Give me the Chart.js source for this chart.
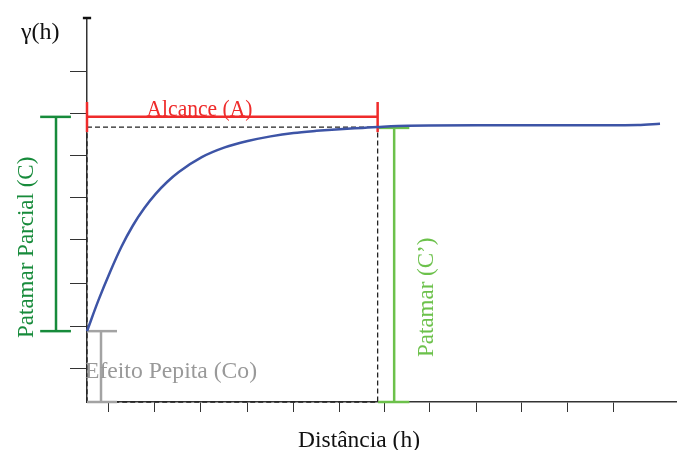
<!DOCTYPE html>
<html>
<head>
<meta charset="utf-8">
<script src="https://cdn.jsdelivr.net/npm/chart.js@4.4.0/dist/chart.umd.min.js"></script>
<style>
    html, body { margin: 0; padding: 0; background: #fff; }
    #wrap { width: 677px; height: 450px; }
</style>
</head>
<body>
<div id="wrap"><canvas id="chart"></canvas></div>
<script>
// modelo do semivariograma
const distance = [0, 0.25, 0.50, 0.75, 1.00, 1.25, 1.50, 1.75, 2.00, 2.50, 3.00, 3.50, 4.00, 4.50, 5.00, 5.50, 6.00, 6.33, 7.00, 8.50, 10.50, 12.00, 12.48];
const gamma = [1.67, 2.40, 3.06, 3.66, 4.16, 4.57, 4.91, 5.19, 5.42, 5.77, 6.00, 6.15, 6.26, 6.34, 6.39, 6.43, 6.46, 6.48, 6.51, 6.52, 6.52, 6.53, 6.56];

const xTicks = [0.46, 1.48, 2.48, 3.49, 4.49, 5.49, 6.47, 7.47, 8.48, 9.46, 10.46, 11.46];
const yTicks = [0.80, 1.79, 2.80, 3.82, 4.81, 5.80, 6.79, 7.80];

const nugget = 1.67;     // Co
const sill = 6.48;       // C + Co
const range = 6.33;      // A

const labels = {
    y: 'γ(h)',
    x: 'Distância (h)',
    range: 'Alcance (A)',
    partialSill: 'Patamar Parcial (C)',
    nugget: 'Efeito Pepita (Co)',
    sill: 'Patamar (C’)'
};

const colors = {
    curve: '#3d54a6',
    red: '#ef2b2b',
    green: '#178b3b',
    lightGreen: '#6cc14b',
    grey: '#a3a3a3',
    dash: '#222'
};

const FONT = '"Liberation Serif", "Times New Roman", serif';

function seg(points, color, width, order, dash) {
    return {
        data: points.map(p => ({ x: p[0], y: p[1] })),
        showLine: true,
        borderColor: color,
        borderWidth: width,
        borderDash: dash || [],
        pointRadius: 0,
        tension: 0,
        clip: false,
        order: order
    };
}

// colchetes (em unidades dos eixos)
const redY = 6.72, redCap = [6.36, 7.07];
const greenX = -0.675, greenCap = [-1.02, -0.35];
const greyX = 0.305, greyCap = [0, 0.654];
const lgX = 6.69, lgCap = [6.34, 7.02];

const datasets = [
    // retângulo tracejado
    seg([[0, sill], [range, sill], [range, 0], [0, 0], [0, sill]], colors.dash, 1.3, 9, [5, 3]),
    // alcance
    seg([[0, redY], [range, redY]], colors.red, 2.5, 3),
    seg([[0, redCap[0]], [0, redCap[1]]], colors.red, 2.5, 3),
    seg([[range, redCap[0]], [range, redCap[1]]], colors.red, 2.5, 3),
    // patamar parcial
    seg([[greenX, nugget], [greenX, redY]], colors.green, 2.5, 3),
    seg([[greenCap[0], nugget], [greenCap[1], nugget]], colors.green, 2.5, 3),
    seg([[greenCap[0], redY], [greenCap[1], redY]], colors.green, 2.5, 3),
    // efeito pepita
    seg([[greyX, 0], [greyX, nugget]], colors.grey, 2.5, 4),
    seg([[greyCap[0], nugget], [greyCap[1], nugget]], colors.grey, 2.5, 4),
    seg([[greyCap[0], 0], [greyCap[1], 0]], colors.grey, 2.5, 4),
    // patamar
    seg([[lgX, 0], [lgX, sill - 0.02]], colors.lightGreen, 2.5, 4),
    seg([[lgCap[0], sill - 0.02], [lgCap[1], sill - 0.02]], colors.lightGreen, 2.5, 4),
    seg([[lgCap[0], 0], [lgCap[1], 0]], colors.lightGreen, 2.5, 4),
    // topo do eixo y
    seg([[-0.09, 9.05], [0.09, 9.05]], '#111', 2.5, 5),
    // curva
    {
        data: distance.map((d, i) => ({ x: d, y: gamma[i] })),
        showLine: true,
        borderColor: colors.curve,
        borderWidth: 2.5,
        pointRadius: 0,
        cubicInterpolationMode: 'monotone',
        clip: false,
        order: 1
    }
];

const textPlugin = {
    id: 'textPlugin',
    afterDraw(chart) {
        const ctx = chart.ctx;
        const xs = chart.scales.x;
        ctx.save();
        ctx.textBaseline = 'alphabetic';

        ctx.fillStyle = '#111';
        ctx.font = '24px ' + FONT;
        ctx.textAlign = 'left';
        ctx.fillText(labels.y, 21, 39, 39);

        ctx.textAlign = 'center';
        ctx.fillText(labels.x, 359, 447, 122);

        ctx.fillStyle = colors.red;
        ctx.fillText(labels.range, xs.getPixelForValue(2.45), 116, 106);

        ctx.fillStyle = '#999';
        ctx.textAlign = 'left';
        ctx.fillText(labels.nugget, 85, 378, 172);

        ctx.font = '23px ' + FONT;
        ctx.fillStyle = colors.green;
        ctx.translate(33, 338);
        ctx.rotate(-Math.PI / 2);
        ctx.fillText(labels.partialSill, 0, 0, 183);
        ctx.restore();

        ctx.save();
        ctx.font = '23px ' + FONT;
        ctx.fillStyle = colors.lightGreen;
        ctx.translate(433, 357);
        ctx.rotate(-Math.PI / 2);
        ctx.fillText(labels.sill, 0, 0, 124);
        ctx.restore();
    }
};

new Chart(document.getElementById('chart'), {
    type: 'scatter',
    data: { datasets },
    options: {
        responsive: true,
        maintainAspectRatio: false,
        animation: false,
        layout: { padding: { top: 18, right: 0, left: 0, bottom: 0 }, autoPadding: false },
        plugins: { legend: { display: false }, tooltip: { enabled: false } },
        scales: {
            x: {
                type: 'linear',
                min: 0,
                max: 12.85,
                afterBuildTicks: s => { s.ticks = xTicks.map(v => ({ value: v })); },
                afterFit: s => { s.height = 48; },
                ticks: { display: false },
                grid: { display: true, drawOnChartArea: false, drawTicks: true, tickLength: 10, color: '#333', lineWidth: 1 },
                border: { display: true, color: '#333', width: 1.5 }
            },
            y: {
                type: 'linear',
                min: 0,
                max: 9.05,
                afterBuildTicks: s => { s.ticks = yTicks.map(v => ({ value: v })); },
                afterFit: s => { s.width = 87; },
                ticks: { display: false },
                grid: { display: true, drawOnChartArea: false, drawTicks: true, tickLength: 17, color: '#333', lineWidth: 1 },
                border: { display: true, color: '#333', width: 1.5 }
            }
        }
    },
    plugins: [textPlugin]
});
</script>
</body>
</html>
